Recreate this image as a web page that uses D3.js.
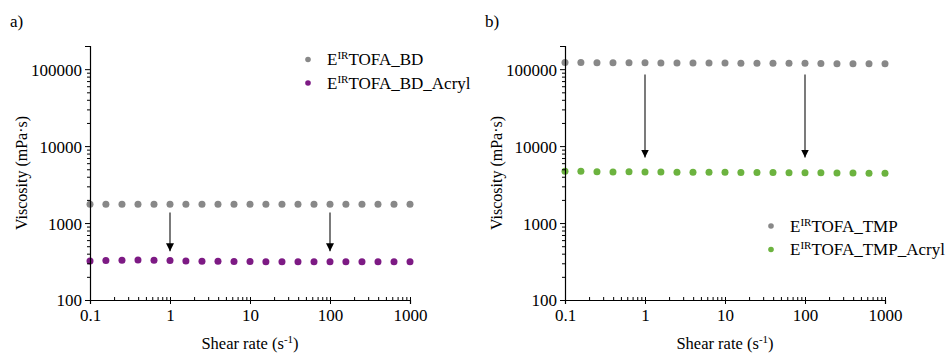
<!DOCTYPE html>
<html><head><meta charset="utf-8">
<script src="https://cdn.jsdelivr.net/npm/d3@7"></script>
<style>
body{margin:0;background:#fff;}
</style></head>
<body><svg id="c" width="949" height="353"></svg>
<script>
const shearRate = [0.1, 0.158, 0.251, 0.398, 0.631, 1, 1.58, 2.51, 3.98, 6.31, 10, 15.8, 25.1, 39.8, 63.1, 100, 158, 251, 398, 631, 1000];
const bdValues = [1760, 1760, 1760, 1760, 1760, 1760, 1760, 1760, 1760, 1760, 1760, 1760, 1760, 1760, 1760, 1760, 1760, 1760, 1760, 1760, 1760];
const bdAcrylValues = [322, 326, 328, 330, 328, 326, 322, 320, 318, 317, 316, 315, 315, 315, 315, 315, 315, 315, 315, 315, 315];
const tmpValues = [122000, 122000, 121500, 121000, 121000, 121000, 120500, 120000, 120000, 120000, 120000, 119500, 119500, 119000, 119000, 119000, 118500, 117500, 117500, 117500, 117500];
const tmpAcrylValues = [4700, 4700, 4650, 4620, 4650, 4620, 4600, 4580, 4580, 4570, 4560, 4550, 4550, 4530, 4520, 4520, 4500, 4470, 4460, 4450, 4430];
const xTicks = [0.1, 1, 10, 100, 1000];
const yTicks = [100, 1000, 10000, 100000];
const arrowsA = [[1, 1370, 430], [100, 1370, 430]];
const arrowsB = [[1, 85000, 7100], [100, 85000, 7100]];

const FONT = "'Liberation Serif', 'DejaVu Serif', serif";
const svg = d3.select("#c");
const defs = svg.append("defs");
defs.append("marker").attr("id","ah").attr("viewBox","0 0 10 10").attr("refX",10).attr("refY",5)
  .attr("markerWidth",8).attr("markerHeight",11).attr("markerUnits","userSpaceOnUse").attr("orient","auto")
  .append("path").attr("d","M0,0 L10,5 L0,10 Z").attr("fill","#000");

function minorTicks(lo, hi){
  const out=[];
  for(let e=Math.floor(Math.log10(lo)); e<=Math.ceil(Math.log10(hi)); e++){
    for(let m=2;m<=9;m++){const v=m*Math.pow(10,e); if(v>=lo&&v<=hi) out.push(v);}
  }
  return out;
}

function panel(cfg){
  const g = svg.append("g");
  const x = d3.scaleLog().domain([0.1,1000]).range([cfg.x0, cfg.x0+320]);
  const y = d3.scaleLog().domain([100,200000]).range([300,46]);
  cfg.series.forEach(s=>{
    g.append("g").selectAll("circle").data(shearRate.map((d,i)=>[d,s.values[i]])).join("circle")
      .attr("cx",d=>x(d[0])).attr("cy",d=>y(d[1])).attr("r",3.5).attr("fill",s.color);
  });
  cfg.arrows.forEach(a=>{
    g.append("line").attr("x1",x(a[0])).attr("x2",x(a[0])).attr("y1",y(a[1])).attr("y2",y(a[2]))
      .attr("stroke","#333").attr("stroke-width",1.3).attr("marker-end","url(#ah)");
  });
  const xa = g.append("g").attr("transform","translate(0,300)");
  xa.call(d3.axisBottom(x).tickValues(xTicks).tickFormat(d=>String(d)).tickSize(4).tickPadding(5));
  xa.append("g").call(d3.axisTop(x).tickValues(xTicks).tickFormat("").tickSize(3)).select(".domain").remove();
  xa.append("g").call(d3.axisTop(x).tickValues(minorTicks(0.1,1000)).tickFormat("").tickSize(3)).select(".domain").remove();
  const ya = g.append("g").attr("transform",`translate(${cfg.x0},0)`);
  ya.call(d3.axisLeft(y).tickValues(yTicks).tickFormat(d=>String(d)).tickSize(5).tickPadding(3));
  ya.append("g").call(d3.axisLeft(y).tickValues(minorTicks(100,200000)).tickFormat("").tickSize(3)).select(".domain").remove();
  g.selectAll(".domain").attr("stroke","#000").attr("stroke-width",1.2);
  g.selectAll(".tick line").attr("stroke","#000");
  g.selectAll(".tick text").style("font-size","17px").attr("fill","#000");
  ya.selectAll(".tick text").attr("dy","0.35em");
  const xl = g.append("text").attr("x",cfg.x0+160).attr("y",349).attr("text-anchor","middle").style("font-size","16.5px");
  xl.append("tspan").text("Shear rate (s");
  xl.append("tspan").attr("dy",-6).style("font-size","11px").text("-1");
  xl.append("tspan").attr("dy",6).text(")");
  g.append("text").attr("transform",`translate(${cfg.x0-63},173) rotate(-90)`).attr("text-anchor","middle")
    .style("font-size","16px").text("Viscosity (mPa·s)");
  g.append("text").attr("x",cfg.x0-80).attr("y",27).style("font-size","17px").text(cfg.label);
  cfg.series.forEach((s,i)=>{
    const ly = cfg.legY + i*23.5;
    g.append("circle").attr("cx",cfg.legX).attr("cy",ly).attr("r",2.8).attr("fill",s.color);
    const t = g.append("text").attr("x",cfg.legX+19).attr("y",ly+5.5).style("font-size","17px");
    t.append("tspan").text("E");
    t.append("tspan").attr("dy",-6).style("font-size","11px").text("IR");
    t.append("tspan").attr("dy",6).text(s.name);
  });
  g.selectAll("text").attr("font-family",null).style("font-family",FONT).attr("fill","#000");
  g.selectAll("g").attr("font-family",null);
}

panel({x0:90, label:"a)", legX:308, legY:59.5, arrows:arrowsA,
  series:[{name:"TOFA_BD", values:bdValues, color:"#888888"},
          {name:"TOFA_BD_Acryl", values:bdAcrylValues, color:"#7d1a84"}]});
panel({x0:565, label:"b)", legX:771, legY:226, arrows:arrowsB,
  series:[{name:"TOFA_TMP", values:tmpValues, color:"#888888"},
          {name:"TOFA_TMP_Acryl", values:tmpAcrylValues, color:"#6cb33f"}]});
</script></body></html>
